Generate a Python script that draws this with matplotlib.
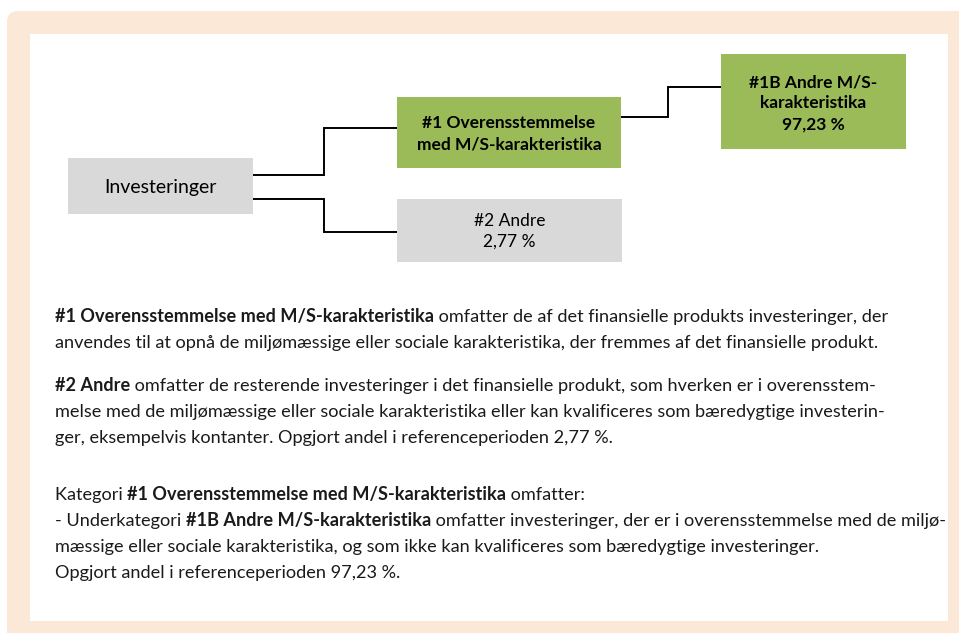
import matplotlib

matplotlib.use("Agg")
import matplotlib.pyplot as plt
from matplotlib.patches import FancyBboxPatch, Rectangle


# --- data -------------------------------------------------------------
ROOT_LABEL = "Investeringer"
NODE_1_LABEL = "#1 Overensstemmelse\nmed M/S-karakteristika"
NODE_2_LABEL = "#2 Andre"
NODE_1B_LABEL = "#1B Andre M/S-\nkarakteristika"
SHARE_2 = 2.77
SHARE_1B = 97.23

# description lines: list of (text, bold) segments per line, None = blank line
DESC_LINES = [
    [("#1 Overensstemmelse med M/S-karakteristika", True),
     (" omfatter de af det finansielle produkts investeringer, der", False)],
    [("anvendes til at opnå de miljømæssige eller sociale karakteristika, der fremmes af det finansielle produkt.", False)],
    None,
    [("#2 Andre", True),
     (" omfatter de resterende investeringer i det finansielle produkt, som hverken er i overensstem-", False)],
    [("melse med de miljømæssige eller sociale karakteristika eller kan kvalificeres som bæredygtige investerin-", False)],
    [("ger, eksempelvis kontanter. Opgjort andel i referenceperioden 2,77 %.", False)],
    None,
    [("Kategori ", False), ("#1 Overensstemmelse med M/S-karakteristika", True), (" omfatter:", False)],
    [("- Underkategori ", False), ("#1B Andre M/S-karakteristika", True),
     (" omfatter investeringer, der er i overensstemmelse med de miljø-", False)],
    [("mæssige eller sociale karakteristika, og som ikke kan kvalificeres som bæredygtige investeringer.", False)],
    [("Opgjort andel i referenceperioden 97,23 %.", False)],
]


def pct(v):
    return f"{v:.2f}".replace(".", ",") + " %"


# --- layout (pixels) --------------------------------------------------
W, H = 959, 633
BEIGE = "#FBE8D6"
GREEN = "#9BBB59"
GREY = "#D9D9D9"
BOX_FONT = ["Lato", "DejaVu Sans"]
BODY_FONT = ["Lato", "DejaVu Sans"]

boxes = {
    "root": (68, 158, 253, 214),
    "n1": (397, 97, 621, 168),
    "n2": (397, 199, 622, 262),
    "n1b": (721, 54, 906, 149),
}

fig = plt.figure(figsize=(W / 100, H / 100), dpi=100)
ax = fig.add_axes([0, 0, 1, 1])
ax.set_xlim(0, W)
ax.set_ylim(H, 0)
ax.axis("off")

# frame
ax.add_patch(FancyBboxPatch((7, 11), W + 30, H + 30,
                            boxstyle="round,pad=0,rounding_size=11",
                            facecolor=BEIGE, edgecolor="none"))
ax.add_patch(Rectangle((30, 34), 918, 587, facecolor="white", edgecolor="none"))


def draw_box(key, color):
    x0, y0, x1, y1 = boxes[key]
    ax.add_patch(Rectangle((x0, y0), x1 - x0, y1 - y0, facecolor=color, edgecolor="none"))
    return (x0 + x1) / 2, (y0 + y1) / 2


def elbow(x0, y0, x1, y1, xm):
    ax.plot([x0, xm, xm, x1], [y0, y0, y1, y1], color="black", lw=1.4,
            solid_joinstyle="miter", solid_capstyle="butt")


cx, cy = draw_box("root", GREY)
ax.text(cx, cy + 1, ROOT_LABEL, ha="center", va="center", fontsize=14, family=BOX_FONT)

cx, cy = draw_box("n1", GREEN)
ax.text(cx, cy + 1, NODE_1_LABEL, ha="center", va="center", fontsize=12.5,
        fontweight="bold", family=BOX_FONT, linespacing=1.45)

cx, cy = draw_box("n2", GREY)
ax.text(cx, cy + 1, NODE_2_LABEL + "\n" + pct(SHARE_2), ha="center", va="center",
        fontsize=12.5, family=BOX_FONT, linespacing=1.4)

cx, cy = draw_box("n1b", GREEN)
ax.text(cx, cy + 2, NODE_1B_LABEL + "\n" + pct(SHARE_1B), ha="center", va="center",
        fontsize=12.5, fontweight="bold", family=BOX_FONT, linespacing=1.35)

elbow(253, 175, 397, 128, 324)
elbow(253, 199, 397, 232, 324)
elbow(621, 117, 721, 87, 668)

# --- description text --------------------------------------------------
renderer = fig.canvas.get_renderer()


def draw_segments(x, y, segs, size):
    for txt, bold in segs:
        t = ax.text(x, y, txt, fontsize=size, fontweight="bold" if bold else "normal",
                    family=BODY_FONT, ha="left", va="baseline", color="#1a1a1a")
        x += t.get_window_extent(renderer).width
    return x


# fit font size so the first line spans the same width as in the reference
probe = 12
probe_texts = []
xe = 0
for txt, bold in DESC_LINES[0]:
    t = ax.text(0, 0, txt, fontsize=probe, fontweight="bold" if bold else "normal",
                family=BODY_FONT)
    xe += t.get_window_extent(renderer).width
    probe_texts.append(t)
for t in probe_texts:
    t.remove()
body_size = probe * 827 / xe

blank_gaps = [17, 31]
y = 322
for segs in DESC_LINES:
    if segs is None:
        y += blank_gaps.pop(0)
        continue
    draw_segments(55, y, segs, body_size)
    y += 26

fig.savefig("out.png", dpi=100)
